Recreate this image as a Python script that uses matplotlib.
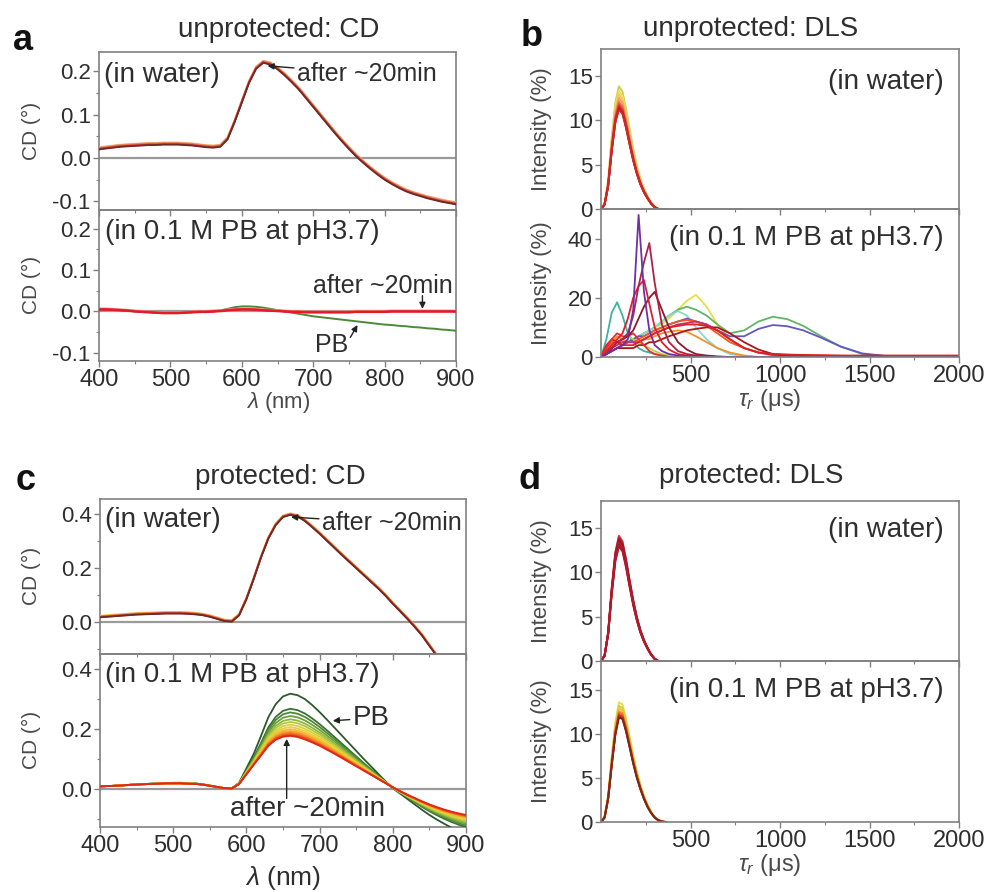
import numpy as np
import matplotlib
matplotlib.use("Agg")
import matplotlib.pyplot as plt
from matplotlib.colors import LinearSegmentedColormap
from matplotlib.ticker import MultipleLocator, FixedLocator

plt.rcParams["font.family"] = ["Liberation Sans", "DejaVu Sans"]
plt.rcParams["axes.unicode_minus"] = False
plt.rcParams["mathtext.fontset"] = "custom"
plt.rcParams["mathtext.rm"] = "Liberation Sans"
plt.rcParams["mathtext.it"] = "Liberation Sans:italic"

TXT = "#2e2e2e"
SPINE = "#808080"

# ---------------------------------------------------------------- CD data
wavelength = np.arange(400, 901, 10)

# unprotected, in water
cd_unprot_water = [
    0.022, 0.024, 0.026, 0.028, 0.029, 0.030, 0.031, 0.032, 0.032, 0.033,
    0.033, 0.033, 0.032, 0.031, 0.029, 0.027, 0.026, 0.028, 0.045, 0.085,
    0.130, 0.175, 0.208, 0.222, 0.218, 0.207, 0.193, 0.177, 0.160, 0.140,
    0.120, 0.100, 0.080, 0.060, 0.041, 0.023, 0.006, -0.009, -0.023, -0.036,
    -0.048, -0.058, -0.067, -0.075, -0.081, -0.086, -0.091, -0.095, -0.099, -0.102,
    -0.105]
cd_unprot_water_shift = [0.003, 0.002, 0.001, 0.0, -0.001, -0.002]
cd_unprot_water_colors = ["#f7b27a", "#f39a6a", "#ee7f58", "#e56048", "#c84038", "#6e2a26"]

# unprotected, in PB: first spectrum and the spectra after mixing
cd_unprot_pb_first = [
    0.004, 0.004, 0.004, 0.003, 0.002, 0.001, 0.000, -0.001, -0.002, -0.003,
    -0.003, -0.003, -0.003, -0.002, -0.002, -0.001, 0.000, 0.002, 0.006, 0.010,
    0.012, 0.012, 0.011, 0.009, 0.006, 0.003, 0.000, -0.003, -0.006, -0.009,
    -0.012, -0.014, -0.016, -0.018, -0.020, -0.022, -0.024, -0.026, -0.028, -0.030,
    -0.032, -0.033, -0.035, -0.036, -0.038, -0.039, -0.041, -0.042, -0.044, -0.045,
    -0.047]
cd_unprot_pb_after = [
    0.005, 0.005, 0.004, 0.003, 0.002, 0.000, -0.001, -0.002, -0.003, -0.004,
    -0.004, -0.004, -0.003, -0.002, -0.001, -0.001, 0.000, 0.001, 0.003, 0.004,
    0.005, 0.005, 0.004, 0.003, 0.002, 0.001, 0.000, -0.001, -0.001, -0.002,
    -0.002, -0.002, -0.002, -0.002, -0.002, -0.002, -0.001, -0.001, -0.001, -0.001,
    -0.001, 0.000, 0.000, 0.000, 0.000, 0.000, 0.000, 0.000, 0.000, 0.000,
    0.000]
cd_unprot_pb_after_shift = [0.002, 0.001, 0.0, -0.001, 0.0]
cd_unprot_pb_after_colors = ["#f29070", "#ea6060", "#e43a3a", "#dc2030", "#e8182a"]

# protected, in water
cd_prot_water = [
    0.018, 0.020, 0.022, 0.024, 0.026, 0.028, 0.029, 0.030, 0.031, 0.032,
    0.032, 0.032, 0.031, 0.029, 0.026, 0.020, 0.012, 0.004, 0.002, 0.025,
    0.085, 0.160, 0.240, 0.310, 0.360, 0.390, 0.398, 0.392, 0.375, 0.352,
    0.328, 0.302, 0.276, 0.250, 0.225, 0.200, 0.175, 0.150, 0.125, 0.098,
    0.068, 0.040, 0.012, -0.018, -0.050, -0.088, -0.125, -0.160, -0.195, -0.230,
    -0.265]
cd_prot_water_shift = [0.004, 0.002, 0.001, 0.0, -0.001, -0.002]
cd_prot_water_colors = ["#f5c040", "#f3a050", "#ee7f58", "#e56048", "#c84038", "#6e2a26"]

# protected, in PB: first (PB) and last (after ~20 min) spectra
cd_prot_pb_first = [
    0.010, 0.011, 0.012, 0.014, 0.015, 0.017, 0.018, 0.019, 0.020, 0.021,
    0.022, 0.022, 0.021, 0.020, 0.017, 0.013, 0.008, 0.004, 0.003, 0.022,
    0.070, 0.118, 0.178, 0.240, 0.283, 0.309, 0.318, 0.313, 0.300, 0.280,
    0.257, 0.232, 0.206, 0.180, 0.154, 0.128, 0.102, 0.077, 0.052, 0.027,
    0.004, -0.014, -0.032, -0.050, -0.068, -0.085, -0.100, -0.114, -0.127, -0.138,
    -0.148]
cd_prot_pb_last = [
    0.010, 0.011, 0.012, 0.013, 0.015, 0.016, 0.017, 0.018, 0.019, 0.020,
    0.020, 0.020, 0.019, 0.018, 0.016, 0.012, 0.008, 0.004, 0.003, 0.018,
    0.050, 0.082, 0.113, 0.145, 0.165, 0.175, 0.178, 0.174, 0.166, 0.156,
    0.145, 0.132, 0.119, 0.105, 0.091, 0.077, 0.063, 0.049, 0.035, 0.021,
    0.007, -0.006, -0.018, -0.029, -0.040, -0.050, -0.059, -0.067, -0.074, -0.080,
    -0.085]
# peak CD of each successive spectrum in PB (first -> after ~20 min)
cd_prot_pb_peaks = [0.318, 0.268, 0.256, 0.244, 0.233, 0.224, 0.215, 0.207,
                    0.200, 0.194, 0.189, 0.185, 0.181, 0.178]

time_cmap = LinearSegmentedColormap.from_list(
    "time", ["#2c5a2a", "#4f8c3a", "#9cc040", "#e6d838", "#f6b030", "#f07020", "#e02818"])

# ---------------------------------------------------------------- DLS data
tau_water = [0, 20, 40, 60, 80, 100, 120, 140, 160, 180, 200, 220, 240, 260, 280, 300, 320, 340, 360]
dls_water_profile = [0.0, 0.5, 2.6, 6.6, 9.8, 11.3, 10.8, 9.2, 7.3, 5.5,
                     4.0, 2.8, 1.9, 1.2, 0.6, 0.2, 0.0, 0.0, 0.0]
dls_pb_profile = [0.0, 0.5, 2.6, 6.4, 9.8, 11.8, 11.6, 10.2, 8.4, 6.6,
                  5.0, 3.7, 2.6, 1.7, 1.0, 0.5, 0.2, 0.05, 0.0]

unprot_water_peaks = [13.8, 13.3, 12.9, 12.5, 12.1, 11.8, 11.6, 11.4, 11.3, 11.2]
unprot_water_colors = ["#c8d048", "#eede60", "#f6c860", "#f4a060", "#ee7a50",
                       "#e45040", "#d83030", "#c82830", "#b02030", "#d02828"]
prot_water_peaks = [14.1, 13.9, 13.7, 13.5, 13.3, 13.1, 12.9]
prot_water_colors = ["#d04050", "#b82838", "#a01828", "#8a1a28", "#c02030", "#9a2030", "#b01a2a"]
prot_pb_peaks = [13.6, 13.2, 12.9, 12.6, 12.4, 12.2, 12.0, 11.9]
prot_pb_colors = ["#e8e040", "#c8d040", "#f4c040", "#f49a30", "#ee6a28", "#d83a20", "#b02818", "#7a2a18"]

tau_pb = [0, 30, 60, 90, 120, 150, 180, 210, 240, 270, 300, 340, 380, 430, 480,
          530, 590, 650, 720, 800, 880, 960, 1040, 1130, 1230, 1340, 1460, 1600, 1800, 2000]
dls_yellow = [0, 1, 2, 3, 4, 5, 6, 7, 8, 9, 10, 11, 13, 16, 19, 21, 17, 11, 6, 3, 1.5, 0.8, 0.4, 0.2, 0, 0, 0, 0, 0, 0]
dls_green = [0, 1, 2, 3, 4, 5, 6, 7, 8, 9, 10, 12, 14, 16, 17, 16, 14, 11, 8, 9, 12, 13.6, 12.8, 10.5, 7, 3.5, 1, 0.2, 0, 0]
dls_cyan = [0, 1, 2, 3, 4, 5, 6, 7, 8, 9, 10, 12, 14, 15.5, 14, 10, 6, 3, 1, 0.3, 0, 0, 0, 0, 0, 0, 0, 0, 0, 0]
dls_teal = [0, 6, 15, 18.5, 14, 8, 5, 3, 2, 1.5, 1, 0.5, 0.2, 0, 0, 0, 0, 0, 0, 0, 0, 0, 0, 0, 0, 0, 0, 0, 0, 0]
dls_blue = [0, 1, 2, 3, 4, 5, 6, 7, 7, 8, 9, 10, 11, 12, 13, 12, 11, 9, 7, 7, 9.5, 10.8, 10.4, 9, 6.5, 3.5, 1.2, 0.3, 0, 0]
dls_yellowgreen = [0, 2, 4, 5, 6, 7, 6, 5, 4, 3, 2, 1, 0.5, 0, 0, 0, 0, 0, 0, 0, 0, 0, 0, 0, 0, 0, 0, 0, 0, 0]
dls_orange = [0, 2, 5, 7, 6, 5, 5, 5, 6, 6, 7, 8, 8.5, 9, 8.5, 7, 5, 3, 1.5, 0.5, 0, 0, 0, 0, 0, 0, 0, 0, 0, 0]
dls_orangered = [0, 3, 5, 5, 5, 5, 5, 6, 7, 8, 9, 10, 11, 12, 12.5, 12, 10.5, 8, 5, 3, 1.5, 1, 0.8, 0.6, 0.5, 0.4, 0.3, 0.2, 0.1, 0]
dls_magenta = [0, 2, 3, 4, 5, 5, 5, 5, 6, 7, 8, 9, 10, 11, 11.5, 12, 11, 9, 6, 3, 1.5, 0.6, 0.3, 0, 0, 0, 0, 0, 0, 0]
dls_darkred = [0, 1, 2, 3, 3, 3, 3, 4, 4, 5, 5, 6, 7, 8, 9, 9.5, 10, 10, 8, 5, 2.5, 1, 0.5, 0.4, 0.3, 0.3, 0.3, 0.3, 0.3, 0.3]
dls_redtail = [0, 4, 6, 5, 4, 4, 4, 5, 6, 7, 8, 9, 10, 10.5, 11, 11, 10.5, 9, 6, 3, 1.5, 1, 0.8, 0.7, 0.6, 0.5, 0.5, 0.5, 0.5, 0.5]
dls_rednarrow = [0, 3, 6, 8, 7, 7, 8, 6, 4, 2, 1, 0.5, 0, 0, 0, 0, 0, 0, 0, 0, 0, 0, 0, 0, 0, 0, 0, 0, 0, 0]
dls_maroon = [0, 1, 3, 5, 6, 7, 9, 13, 17, 20, 22, 16, 10, 5, 2.5, 1, 0.5, 0.2, 0, 0, 0, 0, 0, 0, 0, 0, 0, 0, 0, 0]
dls_red = [0, 2, 4, 6, 8, 13, 20, 24, 26, 18, 10, 5, 2.5, 1, 0.5, 0.2, 0, 0, 0, 0, 0, 0, 0, 0, 0, 0, 0, 0, 0, 0]
dls_crimson = [0, 1, 3, 5, 6, 8, 14, 24, 32, 38.5, 25, 11, 5, 2, 1, 0.5, 0.2, 0, 0, 0, 0, 0, 0, 0, 0, 0, 0, 0, 0, 0]
dls_purple = [0, 1, 2, 3, 4, 6, 16, 48, 22, 9, 4, 2, 1, 0.5, 0.2, 0, 0, 0, 0, 0, 0, 0, 0, 0, 0, 0, 0, 0, 0, 0]

unprot_pb_series = [
    (dls_yellow, "#e4e048"), (dls_green, "#62b468"), (dls_cyan, "#86d8d0"),
    (dls_teal, "#3cb4a4"), (dls_blue, "#6258c0"), (dls_yellowgreen, "#b8d040"),
    (dls_orange, "#f49028"), (dls_orangered, "#f05a22"), (dls_magenta, "#c83070"),
    (dls_darkred, "#a81818"), (dls_redtail, "#e02020"), (dls_rednarrow, "#e83030"),
    (dls_maroon, "#8a1a2e"), (dls_red, "#dc2030"), (dls_crimson, "#b0204a"),
    (dls_purple, "#7030a0"),
]

# ---------------------------------------------------------------- layout
W, H = 989, 892
fig = plt.figure(figsize=(W / 100, H / 100), dpi=100)


def px_axes(left, right, top, bottom):
    return fig.add_axes([left / W, 1 - bottom / H, (right - left) / W, (bottom - top) / H],
                        facecolor="none")


def style(ax, xlabels):
    for sp in ax.spines.values():
        sp.set_color(SPINE)
        sp.set_linewidth(1.2)
    ax.tick_params(which="both", direction="out", color=SPINE, labelcolor=TXT)
    ax.tick_params(which="major", length=4, width=1)
    ax.tick_params(which="minor", length=2.5, width=0.8)
    ax.tick_params(axis="y", labelsize=16, pad=2)
    ax.tick_params(axis="x", labelsize=17, pad=2, labelbottom=xlabels)


def cd_pair(left, right, top, split, bottom, ylim_top, ylim_bot, yticks, yminor):
    at = px_axes(left, right, top, split)
    ab = px_axes(left, right, split, bottom)
    for ax, yl, lab in ((at, ylim_top, False), (ab, ylim_bot, True)):
        ax.set_xlim(400, 900)
        ax.set_ylim(*yl)
        ax.xaxis.set_major_locator(MultipleLocator(100))
        ax.xaxis.set_minor_locator(MultipleLocator(50))
        ax.yaxis.set_major_locator(FixedLocator(yticks))
        ax.yaxis.set_minor_locator(MultipleLocator(yminor))
        ax.yaxis.set_major_formatter(plt.FormatStrFormatter("%.1f"))
        ax.axhline(0, color="#9a9a9a", lw=1.6, zorder=1)
        style(ax, lab)
    return at, ab


def dls_pair(left, right, top, split, bottom, ylim_top, ylim_bot, yt_top, yt_bot):
    at = px_axes(left, right, top, split)
    ab = px_axes(left, right, split, bottom)
    for ax, yl, yt, lab in ((at, ylim_top, yt_top, False), (ab, ylim_bot, yt_bot, True)):
        ax.set_xlim(0, 2000)
        ax.set_ylim(*yl)
        ax.xaxis.set_major_locator(FixedLocator([500, 1000, 1500, 2000]))
        ax.xaxis.set_minor_locator(FixedLocator([250, 750, 1250, 1750]))
        ax.yaxis.set_major_locator(FixedLocator(yt))
        style(ax, lab)
    return at, ab


arrow_kw = dict(arrowstyle="-|>", color="#222222", lw=1.0, mutation_scale=9,
                shrinkA=0, shrinkB=0)

# ---------------------------------------------------------------- (a) unprotected CD
a_top, a_bot = cd_pair(99, 456, 52, 210, 361, (-0.12, 0.245), (-0.12, 0.245),
                       [-0.1, 0.0, 0.1, 0.2], 0.05)
for s, c in zip(cd_unprot_water_shift, cd_unprot_water_colors):
    a_top.plot(wavelength, np.array(cd_unprot_water) + s, color=c, lw=1.3, zorder=3)
a_bot.plot(wavelength, cd_unprot_pb_first, color="#4a8a3a", lw=1.4, zorder=3)
for s, c in zip(cd_unprot_pb_after_shift, cd_unprot_pb_after_colors):
    a_bot.plot(wavelength, np.array(cd_unprot_pb_after) + s, color=c, lw=1.3, zorder=4)

a_top.text(407, 0.193, "(in water)", fontsize=20, color=TXT, va="center", ha="left")
a_top.annotate("after ~20min", xy=(636, 0.213), xytext=(677, 0.195), fontsize=18,
               color=TXT, va="center", ha="left", arrowprops=arrow_kw)
a_bot.text(408, 0.193, "(in 0.1 M PB at pH3.7)", fontsize=20, color=TXT, va="center", ha="left")
a_bot.text(895, 0.062, "after ~20min", fontsize=18, color=TXT, va="center", ha="right")
a_bot.annotate("", xy=(853, 0.006), xytext=(853, 0.038), arrowprops=arrow_kw)
a_bot.text(702, -0.081, "PB", fontsize=18, color=TXT, va="center", ha="left")
a_bot.annotate("", xy=(762, -0.033), xytext=(752, -0.063), arrowprops=arrow_kw)

# ---------------------------------------------------------------- (c) protected CD
c_top, c_bot = cd_pair(100, 466, 499, 654, 827, (-0.12, 0.455), (-0.125, 0.45),
                       [0.0, 0.2, 0.4], 0.1)
for s, c in zip(cd_prot_water_shift, cd_prot_water_colors):
    c_top.plot(wavelength, np.array(cd_prot_water) + s, color=c, lw=1.3, zorder=3)

first = np.array(cd_prot_pb_first)
last = np.array(cd_prot_pb_last)
n_pb = len(cd_prot_pb_peaks)
for i, pk in enumerate(cd_prot_pb_peaks):
    frac = (first.max() - pk) / (first.max() - last.max())
    c_bot.plot(wavelength, first + frac * (last - first),
               color=time_cmap(i / (n_pb - 1)), lw=1.3, zorder=3 + i)

c_top.text(407, 0.378, "(in water)", fontsize=20, color=TXT, va="center", ha="left")
c_top.annotate("after ~20min", xy=(661, 0.388), xytext=(703, 0.365), fontsize=18,
               color=TXT, va="center", ha="left", arrowprops=arrow_kw)
c_bot.text(407, 0.38, "(in 0.1 M PB at pH3.7)", fontsize=20, color=TXT, va="center", ha="left")
c_bot.annotate("PB", xy=(718, 0.228), xytext=(745, 0.237), fontsize=20,
               color=TXT, va="center", ha="left", arrowprops=arrow_kw)
c_bot.text(684, -0.064, "after ~20min", fontsize=20, color=TXT, va="center", ha="center")
c_bot.annotate("", xy=(655, 0.168), xytext=(655, -0.03), arrowprops=arrow_kw)

# ---------------------------------------------------------------- (b) unprotected DLS
b_top, b_bot = dls_pair(601, 959, 49, 209, 357, (0, 18), (0, 50), [0, 5, 10, 15], [0, 20, 40])
prof_w = np.array(dls_water_profile)
for pk, c in zip(unprot_water_peaks, unprot_water_colors):
    b_top.plot(tau_water, prof_w / prof_w.max() * pk, color=c, lw=1.4)
for vals, c in unprot_pb_series:
    b_bot.plot(tau_pb, vals, color=c, lw=1.3)

b_top.text(1915, 14.3, "(in water)", fontsize=20, color=TXT, va="center", ha="right")
b_bot.text(1915, 40.2, "(in 0.1 M PB at pH3.7)", fontsize=20, color=TXT, va="center", ha="right")

# ---------------------------------------------------------------- (d) protected DLS
d_top, d_bot = dls_pair(601, 959, 501, 661, 822, (0, 18), (0, 18.3), [0, 5, 10, 15], [0, 5, 10, 15])
for pk, c in zip(prot_water_peaks, prot_water_colors):
    d_top.plot(tau_water, prof_w / prof_w.max() * pk, color=c, lw=1.4)
prof_p = np.array(dls_pb_profile)
for pk, c in zip(prot_pb_peaks, prot_pb_colors):
    d_bot.plot(tau_water, prof_p / prof_p.max() * pk, color=c, lw=1.4)

d_top.text(1915, 14.7, "(in water)", fontsize=20, color=TXT, va="center", ha="right")
d_bot.text(1915, 15.0, "(in 0.1 M PB at pH3.7)", fontsize=20, color=TXT, va="center", ha="right")

# ---------------------------------------------------------------- titles, letters, axis labels
def ftext(x, y, s, **kw):
    fig.text(x / W, 1 - y / H, s, color=kw.pop("color", TXT), **kw)


ftext(279, 30, "unprotected: CD", fontsize=20, ha="center", va="center")
ftext(751, 29, "unprotected: DLS", fontsize=20, ha="center", va="center")
ftext(280, 477, "protected: CD", fontsize=20, ha="center", va="center")
ftext(751, 476, "protected: DLS", fontsize=20, ha="center", va="center")

for x, y, s in ((23, 40, "a"), (532, 36, "b"), (26, 481, "c"), (530, 479, "d")):
    ftext(x, y, s, fontsize=26, fontweight="bold", ha="center", va="center", color="#111111")

for y in (131, 285, 576, 740):
    ftext(31, y, "CD (°)", fontsize=15, rotation=90, ha="center", va="center", color="#4a4a4a")
for y in (129, 283, 581, 741):
    ftext(542, y, "Intensity (%)", fontsize=16, rotation=90, ha="center", va="center", color="#4a4a4a")

ftext(278, 402, r"$\lambda$ (nm)", fontsize=16, ha="center", va="center", color="#4a4a4a")
ftext(283, 878, r"$\lambda$ (nm)", fontsize=19, ha="center", va="center")
ftext(770, 400, r"$\tau_r$ (μs)", fontsize=17, ha="center", va="center", color="#4a4a4a")
ftext(770, 865, r"$\tau_r$ (μs)", fontsize=17, ha="center", va="center", color="#4a4a4a")

fig.savefig("out.png", dpi=100)
